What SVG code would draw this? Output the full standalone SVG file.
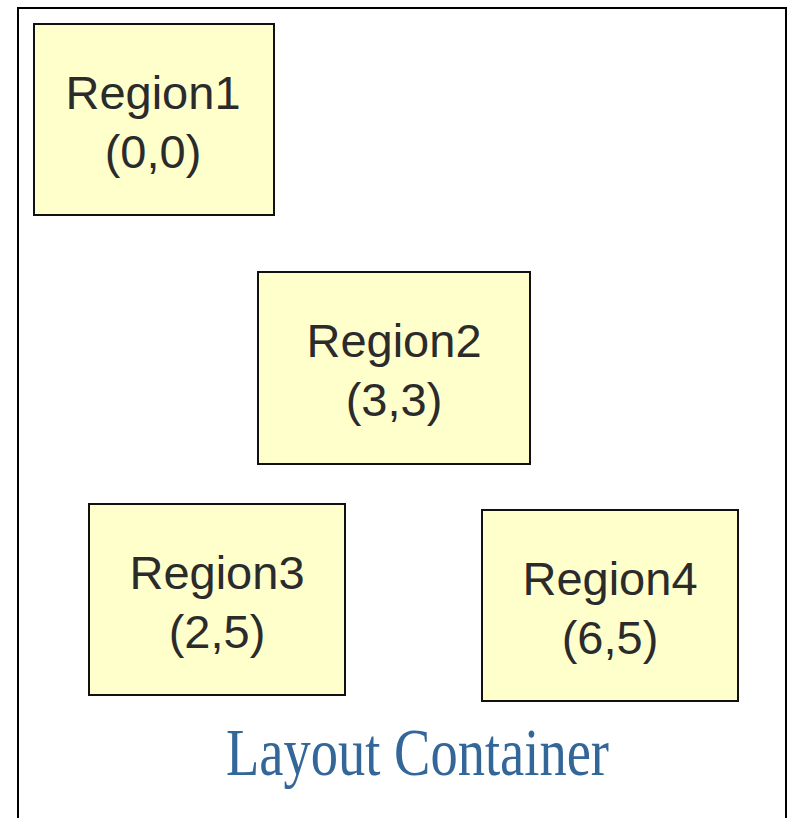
<svg xmlns="http://www.w3.org/2000/svg" width="789" height="818" viewBox="0 0 789 818">
  <style>
    .box { fill: #ffffcc; stroke: #111111; stroke-width: 2; }
    .lbl { font-family: "Liberation Sans", Arial, Helvetica, sans-serif; font-size: 47px; fill: #2b2b2b; text-anchor: middle; }
    .cont { fill: #ffffff; stroke: #000000; stroke-width: 2; }
    .title { font-family: "Liberation Serif", "Times New Roman", serif; font-size: 68px; fill: #336699; }
  </style>
  <rect width="789" height="818" fill="#ffffff"/>
  <g id="container">
    <rect class="cont" x="18" y="8" width="768" height="840"/>
    <text class="title" x="226" y="775" textLength="383" lengthAdjust="spacingAndGlyphs">Layout Container</text>
  </g>
  <g id="region1">
    <rect class="box" x="34" y="24" width="240" height="191"/>
    <text class="lbl" x="153" y="109">Region1</text>
    <text class="lbl" x="153" y="168">(0,0)</text>
  </g>
  <g id="region2">
    <rect class="box" x="258" y="272" width="272" height="192"/>
    <text class="lbl" x="394" y="357">Region2</text>
    <text class="lbl" x="394" y="416">(3,3)</text>
  </g>
  <g id="region3">
    <rect class="box" x="89" y="504" width="256" height="191"/>
    <text class="lbl" x="217" y="589">Region3</text>
    <text class="lbl" x="217" y="648">(2,5)</text>
  </g>
  <g id="region4">
    <rect class="box" x="482" y="510" width="256" height="191"/>
    <text class="lbl" x="610" y="595">Region4</text>
    <text class="lbl" x="610" y="654">(6,5)</text>
  </g>
  <g id="connectors"></g>
</svg>
